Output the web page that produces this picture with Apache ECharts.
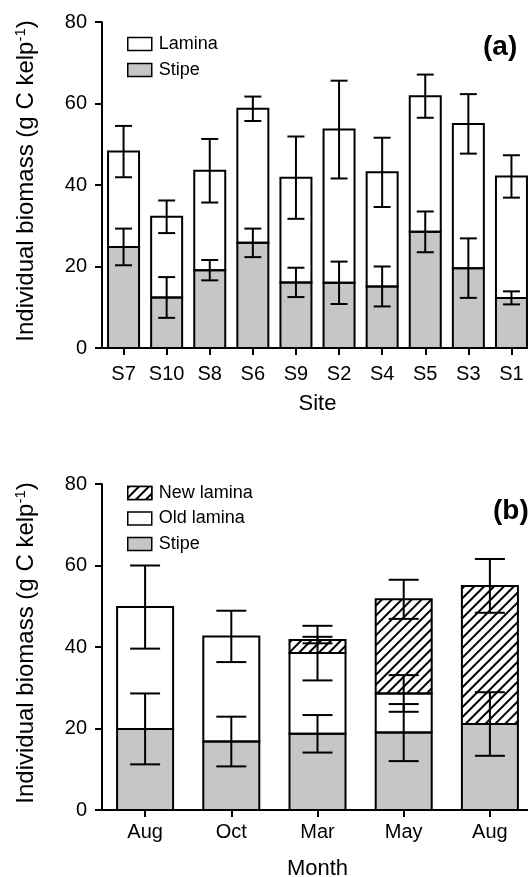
<!DOCTYPE html>
<html>
<head>
<meta charset="utf-8">
<script src="https://cdn.jsdelivr.net/npm/echarts@6/dist/echarts.min.js"></script>
<style>
html,body{margin:0;padding:0;background:#fff;overflow:hidden;}
#c{width:540px;height:877px;}
</style>
</head>
<body>
<div id="c"></div>
<script>
// ---- Panel (a) data ----
var sites = ['S7','S10','S8','S6','S9','S2','S4','S5','S3','S1'];
var stipeA = [24.8,12.4,19.1,25.8,16.1,16.0,15.1,28.5,19.6,12.3];
var stipeAErr = [4.5,5.0,2.5,3.5,3.6,5.2,4.9,5.0,7.3,1.6];
var laminaA = [23.4,19.8,24.4,32.9,25.7,37.6,28.0,33.3,35.4,29.8];
var laminaAErr = [6.3,4.0,7.8,3.0,10.1,12.0,8.5,5.3,7.3,5.2];
// ---- Panel (b) data ----
var months = ['Aug','Oct','Mar','May','Aug'];
var stipeB = [19.9,16.8,18.7,19.0,21.1];
var stipeBErr = [8.7,6.1,4.6,7.0,7.8];
var oldB = [29.9,25.8,19.8,9.6,0];
var oldBErr = [10.2,6.3,6.7,4.5,0];
var newB = [0,0,3.2,23.1,33.9];
var newBErr = [0,0,0.8,4.8,6.6];
var yTicks = [0,20,40,60,80];

var FONT = '"Liberation Sans", Arial, sans-serif';
var GRAY = '#c6c6c6';

function errData(layers){
  var out = [];
  var n = layers[0][0].length;
  for (var i=0;i<n;i++){
    var cum = 0;
    for (var k=0;k<layers.length;k++){
      var v = layers[k][0][i], e = layers[k][1][i];
      cum += v;
      if (v > 0 && e > 0) out.push([i, cum - e, cum + e]);
    }
  }
  return out;
}
function segData(layers){
  var out = [];
  var n = layers[0].length;
  for (var i=0;i<n;i++){
    var cum = 0;
    for (var k=0;k<layers.length;k++){
      var v = layers[k][i];
      if (v > 0) out.push([i, cum, cum + v]);
      cum += v;
    }
  }
  return out;
}
function errRender(halfW){
  return function(params, api){
    var x = api.value(0), lo = api.value(1), hi = api.value(2);
    var pl = api.coord([x, lo]), ph = api.coord([x, hi]);
    var st = {stroke:'#000', lineWidth:2};
    return {type:'group', children:[
      {type:'line', shape:{x1:pl[0],y1:pl[1],x2:ph[0],y2:ph[1]}, style:st},
      {type:'line', shape:{x1:ph[0]-halfW,y1:ph[1],x2:ph[0]+halfW,y2:ph[1]}, style:st},
      {type:'line', shape:{x1:pl[0]-halfW,y1:pl[1],x2:pl[0]+halfW,y2:pl[1]}, style:st}
    ]};
  };
}
function outlineRender(w){
  return function(params, api){
    var x = api.value(0), lo = api.value(1), hi = api.value(2);
    var pl = api.coord([x, lo]), ph = api.coord([x, hi]);
    return {type:'rect', shape:{x:pl[0]-w/2, y:ph[1], width:w, height:pl[1]-ph[1]},
      style:{fill:null, stroke:'#000', lineWidth:2}};
  };
}

var hatch = {
  symbol:'rect', symbolSize:1, color:'#000', backgroundColor:'#fff',
  dashArrayX:[1,0], dashArrayY:[1.4,4.4], rotation: -Math.PI/4
};

function yAxisCfg(gi){
  return {
    gridIndex: gi, type:'value', min: yTicks[0], max: yTicks[yTicks.length-1], interval: 20,
    axisLine:{show:true, lineStyle:{color:'#000', width:2}},
    axisTick:{show:true, length:7, lineStyle:{color:'#000', width:2}},
    axisLabel:{color:'#000', fontSize:20, fontFamily:FONT, margin:15},
    splitLine:{show:false}
  };
}
function xAxisCfg(gi, cats, margin, name, gap){
  return {
    gridIndex: gi, type:'category', data: cats,
    axisLine:{show:true, lineStyle:{color:'#000', width:2}},
    axisTick:{show:true, alignWithLabel:true, length:7, lineStyle:{color:'#000', width:2}},
    axisLabel:{color:'#000', fontSize:20, fontFamily:FONT, margin:margin, interval:0},
    name: name, nameLocation:'middle', nameGap: gap,
    nameTextStyle:{color:'#000', fontSize:22, fontFamily:FONT}
  };
}
var legText = {color:'#000', fontSize:18, fontFamily:FONT, padding:[0,0,0,2]};
var legItem = {borderColor:'#000', borderWidth:1.5};
var yTitle = '{a|Individual biomass (g C kelp}{s|-1}{a|)}';
var yRich = {a:{fontSize:24, fontFamily:FONT, fill:'#000'},
             s:{fontSize:15, fontFamily:FONT, fill:'#000', verticalAlign:'top', padding:[0,0,11,0]}};

var option = {
  animation:false,
  backgroundColor:'#fff',
  grid:[
    {left:102, top:22, width:431, height:326, containLabel:false, outerBoundsMode:'none'},
    {left:102, top:484, width:431, height:326, containLabel:false, outerBoundsMode:'none'}
  ],
  xAxis:[ xAxisCfg(0, sites, 16, 'Site', 45), xAxisCfg(1, months, 12, 'Month', 48) ],
  yAxis:[ yAxisCfg(0), yAxisCfg(1) ],
  legend:[
    {orient:'vertical', left:122, top:30, itemWidth:24, itemHeight:13, itemGap:8, icon:'rect',
     data:['Lamina','Stipe'], selectedMode:false, itemStyle:legItem, textStyle:legText},
    {orient:'vertical', left:122, top:479, itemWidth:24, itemHeight:13, itemGap:7.5, icon:'rect',
     data:['New lamina','Old lamina','Stipe'], selectedMode:false, itemStyle:legItem, textStyle:legText}
  ],
  series:[
    {name:'Stipe', type:'bar', xAxisIndex:0, yAxisIndex:0, stack:'a', barWidth:32, data: stipeA,
     itemStyle:{color:GRAY}},
    {name:'Lamina', type:'bar', xAxisIndex:0, yAxisIndex:0, stack:'a', barWidth:32, data: laminaA,
     itemStyle:{color:'#fff'}},
    {type:'custom', xAxisIndex:0, yAxisIndex:0, z:5, renderItem: outlineRender(31),
     data: segData([stipeA, laminaA])},
    {type:'custom', xAxisIndex:0, yAxisIndex:0, z:10, renderItem: errRender(8.5),
     data: errData([[stipeA, stipeAErr],[laminaA, laminaAErr]])},
    {name:'Stipe', type:'bar', xAxisIndex:1, yAxisIndex:1, stack:'b', barWidth:57, data: stipeB,
     itemStyle:{color:GRAY}},
    {name:'Old lamina', type:'bar', xAxisIndex:1, yAxisIndex:1, stack:'b', barWidth:57, data: oldB,
     itemStyle:{color:'#fff'}},
    {name:'New lamina', type:'bar', xAxisIndex:1, yAxisIndex:1, stack:'b', barWidth:57, data: newB,
     itemStyle:{color:'#fff', decal: hatch}},
    {type:'custom', xAxisIndex:1, yAxisIndex:1, z:5, renderItem: outlineRender(56),
     data: segData([stipeB, oldB, newB])},
    {type:'custom', xAxisIndex:1, yAxisIndex:1, z:10, renderItem: errRender(15),
     data: errData([[stipeB, stipeBErr],[oldB, oldBErr],[newB, newBErr]])}
  ],
  graphic:[
    {type:'text', x:26, y:181, rotation:Math.PI/2,
     style:{text:yTitle, align:'center', verticalAlign:'middle', rich:yRich}},
    {type:'text', x:26, y:643, rotation:Math.PI/2,
     style:{text:yTitle, align:'center', verticalAlign:'middle', rich:yRich}},
    {type:'text', x:483, y:47, style:{text:'(a)', font:'bold 28px ' + FONT, fill:'#000', align:'left', verticalAlign:'middle'}},
    {type:'text', x:493, y:511, style:{text:'(b)', font:'bold 28px ' + FONT, fill:'#000', align:'left', verticalAlign:'middle'}}
  ]
};
var chart = echarts.init(document.getElementById('c'), null, {renderer:'canvas'});
chart.setOption(option);
</script>
</body>
</html>
